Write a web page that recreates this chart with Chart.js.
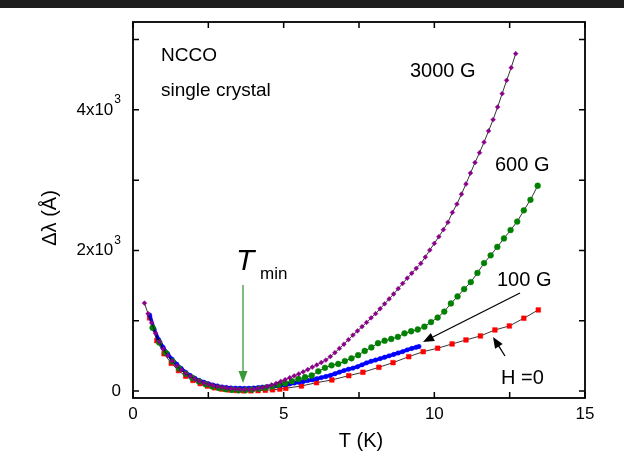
<!DOCTYPE html>
<html>
<head>
<meta charset="utf-8">
<script src="https://cdn.jsdelivr.net/npm/chart.js@4.4.1/dist/chart.umd.min.js"></script>
<style>
  html, body { margin: 0; padding: 0; background: #fff; }
  #wrap { width: 624px; height: 452px; }
</style>
</head>
<body>
<div id="wrap"><canvas id="chart" width="624" height="452"></canvas></div>
<script>
// Delta lambda (Angstrom) vs T (K), NCCO single crystal
const tH0 = [0.55, 0.79, 1.03, 1.27, 1.51, 1.75, 1.99, 2.23, 2.47, 2.71, 2.95, 3.19, 3.43, 3.67, 3.91, 4.15, 4.39, 4.63, 4.87,
  5.07, 5.59, 6.09, 6.6, 7.16, 7.63, 8.16, 8.63, 9.15, 9.63, 10.11, 10.59, 11.05, 11.53, 12.01, 12.49, 12.97, 13.45];
const dlH0 = [1040, 716, 530, 394, 290, 210, 150, 105, 70, 45, 27, 14, 6, 2, 2, 5, 10, 17, 27,
  38, 71, 118, 157, 218, 266, 337, 403, 488, 559, 608, 669, 726, 783, 868, 925, 1035, 1153];

const t100 = [0.55, 0.7, 0.85, 1.0, 1.15, 1.3, 1.45, 1.6, 1.75, 1.9, 2.05, 2.2, 2.35, 2.5, 2.65, 2.8, 2.95, 3.1, 3.25, 3.4,
  3.55, 3.7, 3.85, 4.0, 4.15, 4.3, 4.45, 4.6, 4.75, 4.9, 5.05, 5.2, 5.35, 5.5, 5.65, 5.8, 5.95, 6.1, 6.25, 6.4,
  6.55, 6.7, 6.85, 7.0, 7.15, 7.3, 7.45, 7.6, 7.75, 7.9, 8.05, 8.2, 8.35, 8.5, 8.65, 8.8, 8.95, 9.1, 9.25, 9.4, 9.49];
const dl100 = [1080, 880, 730, 620, 530, 450, 380, 320, 265, 220, 180, 150, 125, 103, 85, 70, 58, 50, 44, 40,
  38, 37, 38, 42, 48, 55, 62, 68, 75, 82, 90, 100, 112, 124, 135, 148, 160, 175, 190, 205,
  222, 245, 268, 290, 310, 325, 345, 372, 400, 422, 440, 460, 480, 500, 520, 540, 560, 585, 605, 622, 632];

const t600 = [0.65, 0.87, 1.09, 1.31, 1.53, 1.75, 1.97, 2.19, 2.41, 2.63, 2.85, 3.07, 3.29, 3.51, 3.73, 3.95, 4.17, 4.39, 4.61, 4.83,
  5.05, 5.27, 5.49, 5.71, 5.93, 6.15, 6.37, 6.59, 6.81, 7.03, 7.25, 7.47, 7.69, 7.91, 8.13, 8.35, 8.57, 8.79, 9.01, 9.23,
  9.45, 9.67, 9.89, 10.11, 10.33, 10.55, 10.77, 10.99, 11.21, 11.43, 11.65, 11.87, 12.09, 12.31, 12.53, 12.75, 12.97, 13.19, 13.43];
const dl600 = [900, 690, 540, 420, 320, 245, 185, 135, 95, 65, 42, 25, 15, 10, 12, 18, 30, 45, 65, 88,
  110, 140, 170, 195, 220, 280, 330, 365, 385, 425, 465, 510, 570, 620, 680, 715, 740, 770, 820, 850,
  875, 915, 980, 1045, 1130, 1245, 1345, 1450, 1550, 1680, 1820, 1930, 2050, 2170, 2290, 2410, 2570, 2720, 2920];

const t3000 = [0.38, 0.5, 0.62, 0.75, 0.88, 1.0, 1.15, 1.3, 1.45, 1.6, 1.75, 1.9, 2.05, 2.2, 2.35, 2.5, 2.65, 2.8, 2.95, 3.1,
  3.25, 3.4, 3.55, 3.7, 3.85, 4.0, 4.15, 4.3, 4.45, 4.6, 4.75, 4.9, 5.05, 5.2, 5.35, 5.5, 5.65, 5.8, 5.95, 6.1,
  6.25, 6.4, 6.55, 6.7, 6.85, 7.0, 7.15, 7.3, 7.45, 7.6, 7.75, 7.9, 8.05, 8.2, 8.35, 8.5, 8.65, 8.8, 8.95, 9.1,
  9.25, 9.4, 9.55, 9.7, 9.85, 10.0, 10.15, 10.3, 10.45, 10.6, 10.75, 10.9, 11.05, 11.2, 11.35, 11.5, 11.65, 11.8, 11.95, 12.1,
  12.25, 12.4, 12.55, 12.7];
const dl3000 = [1250, 1100, 970, 820, 700, 600, 505, 425, 360, 300, 250, 210, 170, 140, 115, 95, 80, 65, 52, 42,
  33, 27, 23, 21, 22, 26, 35, 48, 65, 85, 108, 135, 160, 188, 215, 242, 272, 305, 340, 370,
  405, 440, 490, 545, 605, 665, 730, 795, 855, 915, 975, 1040, 1100, 1170, 1240, 1310, 1380, 1455, 1530, 1605,
  1675, 1745, 1815, 1905, 2005, 2100, 2195, 2295, 2400, 2540, 2660, 2800, 2945, 3100, 3250, 3390, 3540, 3700, 3860, 4040,
  4230, 4420, 4600, 4800];

const xTicks = [0, 2.5, 5, 7.5, 10, 12.5, 15];
const xTickLabels = ['0', '', '5', '', '10', '', '15'];
const yTicks = [0, 1000, 2000, 3000, 4000, 5000];
const yTickMantissa = ['0', '', '2x10', '', '4x10', ''];
const yTickExp = ['', '', '3', '', '3', ''];

const FONT = '"Liberation Sans", Arial, Helvetica, sans-serif';

function pts(ts, vs) {
  return ts.map((t, i) => ({ x: t, y: vs[i] }));
}

function series(ts, vs, color, style, radius, line, width) {
  return {
    data: pts(ts, vs),
    borderColor: line,
    borderWidth: width,
    pointStyle: style,
    pointRadius: radius,
    pointBackgroundColor: color,
    pointBorderColor: color,
    pointBorderWidth: 0.5,
    tension: 0
  };
}

function arrow(ctx, x0, y0, x1, y1, color, head, half) {
  const a = Math.atan2(y1 - y0, x1 - x0);
  ctx.strokeStyle = color;
  ctx.fillStyle = color;
  ctx.lineWidth = 1.3;
  ctx.beginPath();
  ctx.moveTo(x0, y0);
  ctx.lineTo(x1 - Math.cos(a) * head * 0.8, y1 - Math.sin(a) * head * 0.8);
  ctx.stroke();
  ctx.beginPath();
  ctx.moveTo(x1, y1);
  ctx.lineTo(x1 - Math.cos(a) * head - Math.sin(a) * half, y1 - Math.sin(a) * head + Math.cos(a) * half);
  ctx.lineTo(x1 - Math.cos(a) * head + Math.sin(a) * half, y1 - Math.sin(a) * head - Math.cos(a) * half);
  ctx.closePath();
  ctx.fill();
}

const decor = {
  id: 'decor',
  beforeDraw(chart) {
    const ctx = chart.ctx;
    ctx.save();
    ctx.fillStyle = '#1e1e1e';
    ctx.fillRect(0, 0, chart.width, 8);
    ctx.restore();
  },
  afterDraw(chart) {
    const ctx = chart.ctx;
    const { left, right, top, bottom } = chart.chartArea;
    const xs = chart.scales.x, ys = chart.scales.y;
    ctx.save();
    ctx.strokeStyle = '#000';
    ctx.lineWidth = 1.8;
    ctx.strokeRect(left, top, right - left, bottom - top);

    ctx.lineWidth = 1.5;
    ctx.beginPath();
    xTicks.forEach(v => {
      const px = xs.getPixelForValue(v);
      ctx.moveTo(px, bottom); ctx.lineTo(px, bottom - 6);
      ctx.moveTo(px, top); ctx.lineTo(px, top + 6);
    });
    yTicks.forEach(v => {
      const py = ys.getPixelForValue(v);
      ctx.moveTo(left, py); ctx.lineTo(left + 6, py);
      ctx.moveTo(right, py); ctx.lineTo(right - 6, py);
    });
    ctx.stroke();

    ctx.fillStyle = '#000';
    ctx.font = '17px ' + FONT;
    ctx.textAlign = 'center';
    ctx.textBaseline = 'middle';
    xTicks.forEach((v, i) => {
      if (xTickLabels[i]) ctx.fillText(xTickLabels[i], xs.getPixelForValue(v), bottom + 16);
    });
    yTicks.forEach((v, i) => {
      if (!yTickMantissa[i]) return;
      const py = ys.getPixelForValue(v);
      let xr = left - 12;
      ctx.textAlign = 'right';
      if (yTickExp[i]) {
        ctx.font = '12px ' + FONT;
        ctx.fillText(yTickExp[i], xr, py - 10);
        xr -= ctx.measureText(yTickExp[i]).width + 1;
      }
      ctx.font = '17px ' + FONT;
      ctx.fillText(yTickMantissa[i], xr, py);
    });

    // axis titles
    ctx.font = '20px ' + FONT;
    ctx.textAlign = 'center';
    ctx.fillText('T (K)', 361, 441);
    ctx.save();
    ctx.translate(50, 218);
    ctx.rotate(-Math.PI / 2);
    ctx.fillText('\u0394\u03bb (\u00c5)', 0, 0);
    ctx.restore();

    // labels
    ctx.textAlign = 'left';
    ctx.font = '19px ' + FONT;
    ctx.fillText('NCCO', 161, 56);
    ctx.fillText('single crystal', 161, 91);
    ctx.font = '20px ' + FONT;
    ctx.fillText('3000 G', 410, 71);
    ctx.fillText('600 G', 495, 165);
    ctx.fillText('100 G', 497, 280);
    ctx.fillText('H =0', 501, 378);

    ctx.font = 'italic 30px ' + FONT;
    ctx.textBaseline = 'alphabetic';
    ctx.fillText('T', 236, 270);
    ctx.font = '17px ' + FONT;
    ctx.fillText('min', 260, 279);

    arrow(ctx, 520, 293, 423, 342, '#000', 11, 4.5);
    arrow(ctx, 505, 356, 493, 337, '#000', 11, 4.5);
    arrow(ctx, 243, 285, 243, 383, '#3a9a3a', 12, 4.5);
    ctx.restore();
  }
};

new Chart(document.getElementById('chart'), {
  type: 'line',
  data: {
    datasets: [
      series(t3000, dl3000, '#8b008b', 'rectRot', 2.4, '#000', 0.8),
      series(t600, dl600, '#008000', 'circle', 2.9, '#000', 0.8),
      series(t100, dl100, '#0000ff', 'circle', 2.2, '#0000ff', 3.5),
      series(tH0, dlH0, '#ff0000', 'rect', 3.3, '#000', 0.8)
    ]
  },
  options: {
    responsive: false,
    devicePixelRatio: 1,
    animation: false,
    layout: { padding: { left: 133, right: 39, top: 22, bottom: 54 } },
    plugins: { legend: { display: false }, tooltip: { enabled: false } },
    scales: {
      x: {
        type: 'linear', min: 0, max: 15,
        grid: { display: false, drawTicks: false, tickLength: 0 }, border: { display: false },
        ticks: { display: false, padding: 0 }
      },
      y: {
        type: 'linear', min: -100, max: 5250,
        grid: { display: false, drawTicks: false, tickLength: 0 }, border: { display: false },
        ticks: { display: false, padding: 0 }
      }
    }
  },
  plugins: [decor]
});
</script>
</body>
</html>
